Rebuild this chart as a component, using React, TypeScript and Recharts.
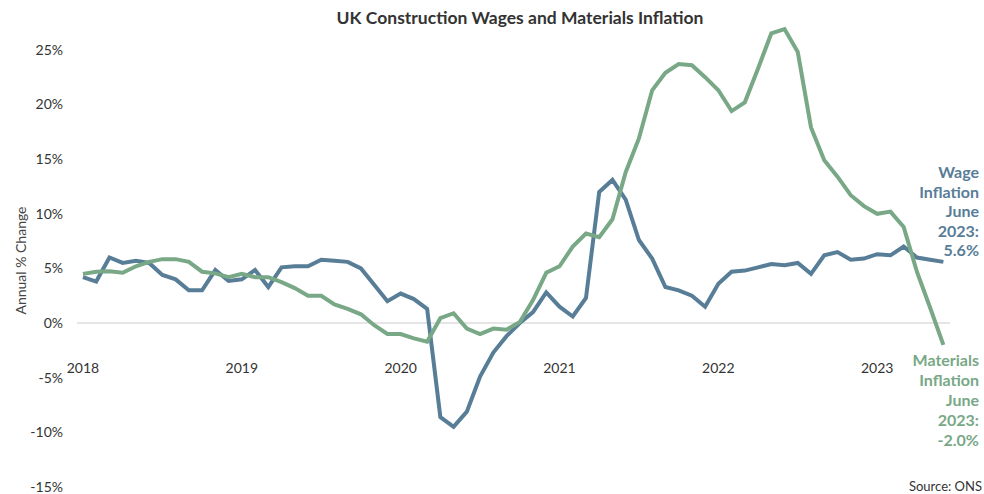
import { Line, LineChart, ReferenceLine, XAxis, YAxis } from "recharts";

// monthly, Jan 2018 .. Jun 2023
const wageInflation = [
  4.2, 3.8, 6.0, 5.5, 5.7, 5.5, 4.4, 4.0, 3.0, 3.0, 4.85, 3.85,
  4.0, 4.85, 3.3, 5.1, 5.2, 5.2, 5.8, 5.7, 5.6, 5.0, 3.5, 2.0,
  2.7, 2.2, 1.3, -8.6, -9.5, -8.1, -4.9, -2.7, -1.2, 0.0, 1.0, 2.8,
  1.5, 0.6, 2.3, 12.0, 13.1, 11.3, 7.6, 5.9, 3.3, 3.0, 2.5, 1.5,
  3.6, 4.7, 4.8, 5.1, 5.4, 5.3, 5.5, 4.5, 6.2, 6.5, 5.8, 5.9,
  6.3, 6.2, 7.0, 6.0, 5.8, 5.6,
];

const materialsInflation = [
  4.5, 4.7, 4.75, 4.6, 5.2, 5.6, 5.85, 5.85, 5.6, 4.7, 4.55, 4.2,
  4.5, 4.2, 4.2, 3.75, 3.2, 2.5, 2.5, 1.7, 1.3, 0.8, -0.2, -1.0,
  -1.0, -1.4, -1.7, 0.45, 0.9, -0.5, -1.0, -0.5, -0.6, 0.1, 2.1, 4.6,
  5.2, 7.0, 8.2, 7.85, 9.5, 13.8, 16.9, 21.3, 22.9, 23.7, 23.6, 22.5,
  21.3, 19.4, 20.2, 23.3, 26.5, 26.9, 24.8, 17.9, 14.9, 13.4, 11.7, 10.7,
  10.0, 10.2, 8.8, 4.7, 1.4, -2.0,
];

const years = ["2018", "2019", "2020", "2021", "2022", "2023"];
const yearTicks = [0, 12, 24, 36, 48, 60];
const yTicks = [-15, -10, -5, 0, 5, 10, 15, 20, 25];

const WAGE = "#587d97";
const MATERIALS = "#78a886";
const FONT = "Lato, 'Open Sans', sans-serif";

const data = wageInflation.map((w, i) => ({
  m: i,
  wage: w,
  materials: materialsInflation[i],
}));

function YearTick(props: any) {
  const { x, y, payload } = props;
  const idx = yearTicks.indexOf(payload.value);
  return (
    <text x={x} y={y - 114} textAnchor="middle" fontSize={14} fill="#333" fontFamily={FONT}>
      {years[idx]}
    </text>
  );
}

function YLabel(props: any) {
  const vb = props.viewBox;
  const cx = 20;
  const cy = vb.y + vb.height / 2 + 3;
  return (
    <text
      x={cx}
      y={cy}
      transform={`rotate(-90, ${cx}, ${cy})`}
      textAnchor="middle"
      dominantBaseline="central"
      fontSize={14}
      fill="#444"
      fontFamily={FONT}
    >
      Annual % Change
    </text>
  );
}

const noteStyle: React.CSSProperties = {
  position: "absolute",
  right: 5,
  textAlign: "right",
  fontFamily: FONT,
  fontWeight: 700,
  fontSize: 16,
  lineHeight: "19.5px",
};

export default function App() {
  return (
    <div
      style={{
        position: "absolute",
        left: 0,
        top: 0,
        width: 984,
        height: 494,
        background: "#fff",
        overflow: "hidden",
        fontFamily: FONT,
      }}
    >
      <div
        style={{
          position: "absolute",
          top: 8,
          left: 0,
          width: 1040,
          textAlign: "center",
          fontSize: 17.5,
          fontWeight: 700,
          color: "#333",
          lineHeight: "20px",
        }}
      >
        UK Construction Wages and Materials Inflation
      </div>

      <LineChart
        width={984}
        height={494}
        data={data}
        margin={{ top: 28, right: 34, left: 0, bottom: 0 }}
      >
        <XAxis
          dataKey="m"
          type="number"
          domain={[-0.45, 65.5]}
          ticks={yearTicks}
          axisLine={false}
          tickLine={false}
          tickSize={0}
          tickMargin={0}
          height={7}
          tick={<YearTick />}
          interval={0}
        />
        <YAxis
          type="number"
          domain={[-15, 27]}
          ticks={yTicks}
          interval={0}
          width={77}
          axisLine={false}
          tickLine={false}
          tickMargin={8}
          tickFormatter={(v) => `${v}%`}
          tick={{ fontSize: 14, fill: "#333", fontFamily: FONT }}
          label={<YLabel />}
        />
        <ReferenceLine y={0} stroke="#dcdcdc" strokeWidth={1.5} />
        <Line
          dataKey="wage"
          stroke={WAGE}
          strokeWidth={4}
          dot={false}
          type="linear"
          isAnimationActive={false}
        />
        <Line
          dataKey="materials"
          stroke={MATERIALS}
          strokeWidth={4}
          dot={false}
          type="linear"
          isAnimationActive={false}
        />
      </LineChart>

      <div style={{ ...noteStyle, top: 162, color: WAGE }}>
        Wage
        <br />
        Inflation
        <br />
        June
        <br />
        2023:
        <br />
        5.6%
      </div>
      <div style={{ ...noteStyle, top: 350, color: MATERIALS, lineHeight: "20px" }}>
        Materials
        <br />
        Inflation
        <br />
        June
        <br />
        2023:
        <br />
        -2.0%
      </div>
      <div
        style={{
          position: "absolute",
          right: 2,
          top: 478,
          fontSize: 13,
          color: "#333",
          lineHeight: "16px",
        }}
      >
        Source: ONS
      </div>
    </div>
  );
}
